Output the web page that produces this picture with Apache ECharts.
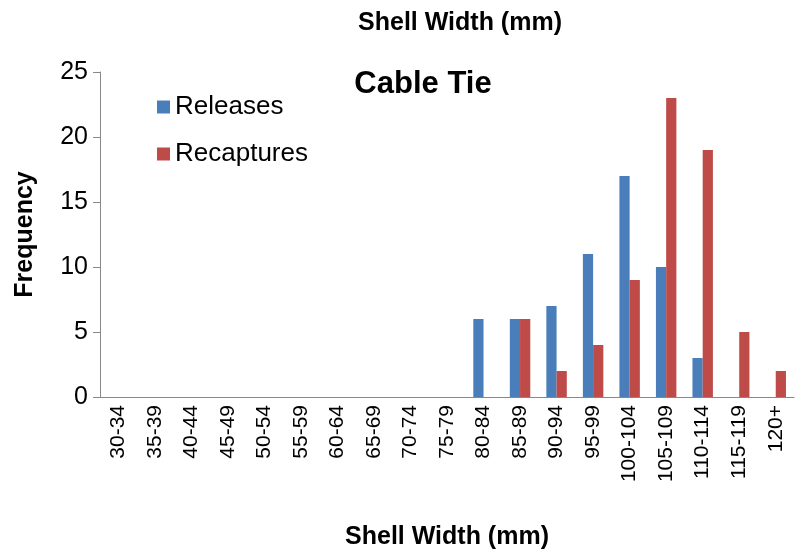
<!DOCTYPE html>
<html>
<head>
<meta charset="utf-8">
<script src="https://cdn.jsdelivr.net/npm/echarts@6/dist/echarts.min.js"></script>
</head>
<body style="margin:0">
<div id="main" style="width:804px;height:555px;"></div>
<script>
var categories = ['30-34','35-39','40-44','45-49','50-54','55-59','60-64','65-69','70-74','75-79','80-84','85-89','90-94','95-99','100-104','105-109','110-114','115-119','120+'];
var releases = [0,0,0,0,0,0,0,0,0,0,6,6,7,11,17,10,3,0,0];
var recaptures = [0,0,0,0,0,0,0,0,0,0,0,6,2,4,9,23,19,5,2];

var chart = echarts.init(document.getElementById('main'));
chart.setOption({
    textStyle: {fontFamily: 'Liberation Sans, Arial'},
    title: [
        {text: 'Shell Width (mm)', left: 455, top: 6, textAlign: 'center',
         textStyle: {fontSize: 25, fontWeight: 'bold', color: '#000'}},
        {text: 'Cable Tie', left: 418, top: 64, textAlign: 'center',
         textStyle: {fontSize: 31, fontWeight: 'bold', color: '#000'}}
    ],
    legend: {
        orient: 'vertical', left: 152, top: 89, itemGap: 21,
        itemWidth: 13, itemHeight: 13, icon: 'rect',
        textStyle: {fontSize: 26, color: '#000'},
        data: ['Releases', 'Recaptures']
    },
    grid: {left: 100, right: 10, top: 72, bottom: 154},
    xAxis: {
        type: 'category', data: categories,
        name: 'Shell Width (mm)', nameLocation: 'middle', nameGap: 128,
        nameTextStyle: {fontSize: 25, fontWeight: 'bold', color: '#000'},
        axisLine: {lineStyle: {color: '#888'}},
        axisTick: {length: 7, lineStyle: {color: '#888'}},
        axisLabel: {rotate: 90, fontSize: 21, color: '#000', interval: 0}
    },
    yAxis: {
        type: 'value', min: 0, max: 25, interval: 5,
        name: 'Frequency', nameLocation: 'middle', nameGap: 62,
        nameTextStyle: {fontSize: 25, fontWeight: 'bold', color: '#000'},
        axisLine: {show: true, lineStyle: {color: '#888'}},
        axisTick: {show: true, length: 7, lineStyle: {color: '#888'}},
        splitLine: {show: false},
        axisLabel: {fontSize: 25, color: '#000', margin: 12}
    },
    series: [
        {name: 'Releases', type: 'bar', data: releases, barGap: '0%', barCategoryGap: '44%',
         itemStyle: {color: '#4a7ebb'}},
        {name: 'Recaptures', type: 'bar', data: recaptures,
         itemStyle: {color: '#be4b48'}}
    ]
});
</script>
</body>
</html>
